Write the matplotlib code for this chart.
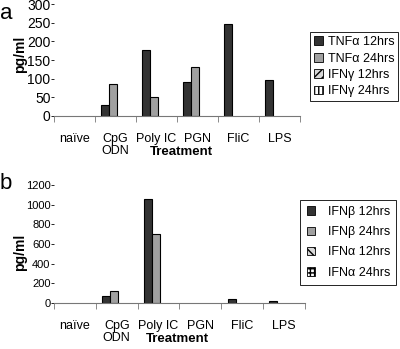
import matplotlib
matplotlib.use('Agg')
import matplotlib.pyplot as plt
from matplotlib.patches import Patch
import numpy as np

plt.rcParams['font.family'] = ['Liberation Sans', 'DejaVu Sans']

treatments = ['naïve', 'CpG\nODN', 'Poly IC', 'PGN', 'FliC', 'LPS']

# panel a
tnf_12 = [0, 30, 177, 92, 248, 97]
tnf_24 = [0, 86, 50, 130, 0, 0]
ifng_12 = [0, 0, 0, 0, 0, 0]
ifng_24 = [0, 0, 0, 0, 0, 0]
labels_a = ['TNFα 12hrs', 'TNFα 24hrs', 'IFNγ 12hrs', 'IFNγ 24hrs']

# panel b
ifnb_12 = [0, 75, 1055, 0, 40, 15]
ifnb_24 = [0, 125, 700, 0, 0, 0]
ifna_12 = [0, 0, 0, 0, 0, 0]
ifna_24 = [0, 0, 0, 0, 0, 0]
labels_b = ['IFNβ 12hrs', 'IFNβ 24hrs', 'IFNα 12hrs', 'IFNα 24hrs']

styles = [
    dict(facecolor='#333333', hatch=None),
    dict(facecolor='#a0a0a0', hatch=None),
    dict(facecolor='#d8d8d8', hatch='////'),
    dict(facecolor='white', hatch='||||'),
]
styles_b = [
    dict(facecolor='#333333', hatch=None),
    dict(facecolor='#a0a0a0', hatch=None),
    dict(facecolor='#d8d8d8', hatch='\\\\\\\\'),
    dict(facecolor='white', hatch='++++'),
]

fig = plt.figure(figsize=(4.0, 3.49), dpi=100)
ax_a = fig.add_axes([0.135, 0.668, 0.615, 0.32])
ax_b = fig.add_axes([0.135, 0.132, 0.6275, 0.338])

x = np.arange(len(treatments))
w = 0.19


def draw(ax, series, sty, xmax, ymax, yticks, tfs):
    for k, vals in enumerate(series):
        vals = np.array(vals, dtype=float)
        m = vals > 0
        ax.bar(x[m] + (k - 1.5) * w + 0.03, vals[m], w, edgecolor='black',
               linewidth=0.8, **sty[k])
    ax.set_xlim(-0.5, xmax)
    ax.set_ylim(0, ymax)
    ax.set_yticks(yticks)
    ax.tick_params(axis='y', labelsize=tfs, length=2, width=0.6, pad=0.5)
    ax.set_xticks(np.arange(-0.5, len(treatments), 1.0))
    ax.set_xticks(x, minor=True)
    ax.set_xticklabels(treatments, minor=True, fontsize=9, linespacing=1.1)
    ax.set_xticklabels([])
    ax.tick_params(axis='x', which='major', length=4, width=0.6, color='#777777')
    ax.tick_params(axis='x', which='minor', length=0, pad=12)
    for s in ['top', 'right', 'left']:
        ax.spines[s].set_visible(False)
    ax.spines['bottom'].set_color('#777777')
    ax.spines['bottom'].set_linewidth(0.8)
    ax.set_ylabel('pg/ml', fontsize=10, fontweight='bold')
    ax.set_xlabel('Treatment', fontsize=9.5, fontweight='bold')


draw(ax_a, [tnf_12, tnf_24, ifng_12, ifng_24], styles, 5.14, 300,
     range(0, 301, 50), 10)
draw(ax_b, [ifnb_12, ifnb_24, ifna_12, ifna_24], styles_b, 5.5, 1200,
     range(0, 1201, 200), 8)
ax_a.xaxis.set_label_coords(0.52, -0.27)
ax_b.xaxis.set_label_coords(0.49, -0.255)
ax_a.yaxis.set_label_coords(-0.11, 0.55)
ax_b.yaxis.set_label_coords(-0.108, 0.43)

h_a = [Patch(edgecolor='black', linewidth=0.6, **s) for s in styles]
h_b = [Patch(edgecolor='black', linewidth=0.6, **s) for s in styles_b]
leg_a = fig.legend(h_a, labels_a, loc='upper left', bbox_to_anchor=(0.76, 0.925),
                   fontsize=9, handlelength=0.7, handleheight=0.7, handletextpad=0.4,
                   labelspacing=0.35, borderpad=0.3, fancybox=False,
                   edgecolor='black', framealpha=1)
leg_a.get_frame().set_linewidth(0.6)
leg_b = fig.legend(h_b, labels_b, loc='upper left', bbox_to_anchor=(0.735, 0.445),
                   fontsize=9, handlelength=0.7, handleheight=0.7, handletextpad=1.0,
                   labelspacing=0.65, borderpad=0.5, fancybox=False,
                   edgecolor='black', framealpha=1)
leg_b.get_frame().set_linewidth(0.6)

fig.text(0.0, 0.99, 'a', fontsize=16, va='top', ha='left')
fig.text(0.0, 0.505, 'b', fontsize=16, va='top', ha='left')

fig.savefig('out.png', dpi=100)
